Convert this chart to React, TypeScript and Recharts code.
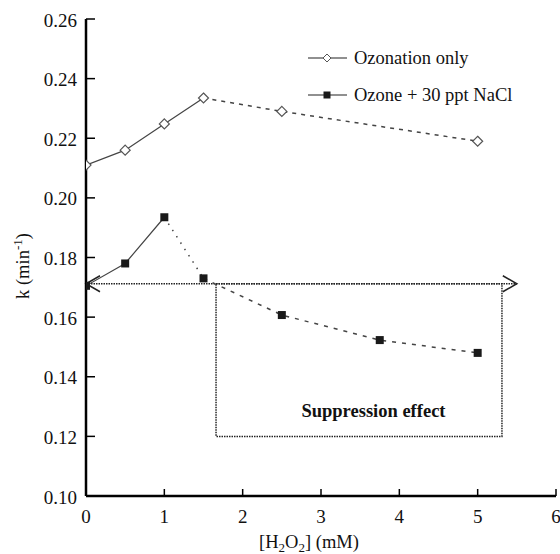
import React from 'react';
import {
  ComposedChart,
  Line,
  XAxis,
  YAxis,
  Legend,
  ReferenceLine,
  ReferenceArea,
  ReferenceDot,
} from 'recharts';

// H2O2 dose (mM)
const doses = [0, 0.5, 1, 1.5, 2.5, 3.75, 5];
// Pseudo-first-order rate constant k (min^-1)
const ozonationOnly = [0.211, 0.216, 0.2248, 0.2335, 0.229, null, 0.219];
const ozoneNaCl = [0.1705, 0.178, 0.1935, 0.173, 0.1607, 0.1523, 0.148];

const xTicks = [0, 1, 2, 3, 4, 5, 6];
const yTicks = [0.1, 0.12, 0.14, 0.16, 0.18, 0.2, 0.22, 0.24, 0.26];

const seriesNames = ['Ozonation only', 'Ozone + 30 ppt NaCl'];

// suppression annotation (data coordinates)
const arrowLevel = 0.1712;
const arrowStart = 0;
const arrowEnd = 5.5;
const boxX = [1.66, 5.31];
const boxY = [0.12, 0.1712];
const boxText = 'Suppression effect';
const boxTextAt = { x: 3.67, y: 0.1285 };

const FONT = 'Liberation Serif';
const INK = '#222';
const TEXT = '#111';

// chart layout
const W = 560;
const H = 554;
const Y_AXIS_W = 86;
const X_AXIS_H = 58;
const PLOT_BOTTOM = H - X_AXIS_H;

const data = doses.map((d, i) => {
  const oz = ozonationOnly[i];
  const na = ozoneNaCl[i];
  return {
    dose: d,
    ozSolid: d <= 1.5 ? oz : null,
    ozDash: d >= 1.5 ? oz : null,
    ozPts: oz,
    naSolid: d <= 1 ? na : null,
    naDot: d >= 1 && d <= 1.5 ? na : null,
    naDash: d >= 1.5 ? na : null,
    naPts: na,
  };
});

const textStyle = { fontFamily: FONT, fontSize: 18.5, fill: TEXT };
const tickStyle = { fontFamily: FONT, fontSize: 19, fill: TEXT };

// y ticks: inward tick mark plus label
const YTick = (props: any) => {
  const { payload } = props;
  const y = payload.coordinate;
  return (
    <g>
      <line x1={Y_AXIS_W} y1={y} x2={Y_AXIS_W + 9} y2={y} stroke="#000" strokeWidth={1.5} />
      <text x={Y_AXIS_W - 9} y={y + 1} textAnchor="end" dominantBaseline="central" style={tickStyle}>
        {Number(payload.value).toFixed(2)}
      </text>
    </g>
  );
};

// x ticks: inward tick mark plus label
const XTick = (props: any) => {
  const { payload } = props;
  const x = payload.coordinate;
  return (
    <g>
      <line x1={x} y1={PLOT_BOTTOM} x2={x} y2={PLOT_BOTTOM - 7} stroke="#000" strokeWidth={1.5} />
      <text x={x} y={PLOT_BOTTOM + 20} textAnchor="middle" dominantBaseline="central" style={tickStyle}>
        {payload.value}
      </text>
    </g>
  );
};

const Diamond = (props: any) => {
  const { cx, cy } = props;
  if (cx == null || cy == null || props.value == null) return <g />;
  const r = 5;
  return (
    <path
      d={`M${cx},${cy - r}L${cx + r},${cy}L${cx},${cy + r}L${cx - r},${cy}Z`}
      fill="#fff"
      stroke="#555"
      strokeWidth={1.2}
    />
  );
};

const Square = (props: any) => {
  const { cx, cy } = props;
  if (cx == null || cy == null || props.value == null) return <g />;
  const s = 8;
  return <rect x={cx - s / 2} y={cy - s / 2} width={s} height={s} fill="#1a1a1a" />;
};

const DoubleArrow = (props: any) => {
  const { x1, y1, x2, y2 } = props;
  const h = 8;
  return (
    <g>
      <line x1={x1} y1={y1} x2={x2} y2={y2} stroke={INK} strokeWidth={1.5} strokeDasharray="1.5 1" />
      <polyline
        points={`${x1 + 14},${y1 - h} ${x1},${y1} ${x1 + 14},${y1 + h}`}
        fill="none"
        stroke={INK}
        strokeWidth={1.5}
      />
      <polyline
        points={`${x2 - 14},${y2 - h} ${x2},${y2} ${x2 - 14},${y2 + h}`}
        fill="none"
        stroke={INK}
        strokeWidth={1.5}
      />
    </g>
  );
};

const BoxLabel = (props: any) => (
  <text
    x={props.cx}
    y={props.cy}
    textAnchor="middle"
    dominantBaseline="central"
    style={{ ...textStyle, fontWeight: 'bold' }}
  >
    {boxText}
  </text>
);

const LegendBox = () => (
  <svg width={230} height={70} style={{ overflow: 'visible' }}>
    {seriesNames.map((name, i) => {
      const y = 13 + i * 37;
      return (
        <g key={name}>
          <line x1={3} y1={y} x2={42} y2={y} stroke={INK} strokeWidth={1.2} />
          {i === 0 ? (
            <path d={`M22,${y - 4}L26,${y}L22,${y + 4}L18,${y}Z`} fill="#fff" stroke="#555" />
          ) : (
            <rect x={18.5} y={y - 3.5} width={7} height={7} fill="#1a1a1a" />
          )}
          <text x={49} y={y} dominantBaseline="central" style={textStyle}>
            {name}
          </text>
        </g>
      );
    })}
  </svg>
);

export default function App() {
  return (
    <div style={{ position: 'absolute', left: 0, top: 0, width: W, height: H, background: '#fff', fontFamily: FONT }}>
      <ComposedChart width={W} height={H} data={data} margin={{ top: 19, right: 4, bottom: 0, left: 0 }}>
        <XAxis
          dataKey="dose"
          type="number"
          domain={[0, 6]}
          ticks={xTicks}
          allowDataOverflow
          height={X_AXIS_H}
          axisLine={{ stroke: '#000', strokeWidth: 2.5 }}
          tickLine={false}
          tick={<XTick />}
          label={() => (
            <text x={309} y={548} textAnchor="middle" style={textStyle}>
              [H
              <tspan fontSize={13} dy={4}>2</tspan>
              <tspan dy={-4}>O</tspan>
              <tspan fontSize={13} dy={4}>2</tspan>
              <tspan dy={-4}>] (mM)</tspan>
            </text>
          )}
        />
        <XAxis xAxisId="top" orientation="top" dataKey="dose" type="number" domain={[0, 6]} height={0}
          tick={false} tickLine={false} axisLine={{ stroke: '#000', strokeWidth: 2.5 }} />
        <YAxis
          type="number"
          domain={[0.1, 0.26]}
          ticks={yTicks}
          allowDataOverflow
          width={Y_AXIS_W}
          axisLine={{ stroke: '#000', strokeWidth: 2.5 }}
          tickLine={false}
          tick={<YTick />}
          label={() => (
            <text
              x={23}
              y={266}
              transform="rotate(-90 23 266)"
              textAnchor="middle"
              dominantBaseline="central"
              style={textStyle}
            >
              k (min
              <tspan fontSize={13} dy={-6}>-1</tspan>
              <tspan dy={6}>)</tspan>
            </text>
          )}
        />
        <YAxis yAxisId="right" orientation="right" domain={[0.1, 0.26]} width={0} tick={false} tickLine={false}
          axisLine={{ stroke: '#000', strokeWidth: 2.5 }} />

        <ReferenceArea
          x1={boxX[0]}
          x2={boxX[1]}
          y1={boxY[0]}
          y2={boxY[1]}
          fill="none"
          fillOpacity={0}
          stroke={INK}
          strokeWidth={1.5}
          strokeDasharray="1.5 1"
          ifOverflow="visible"
        />
        <ReferenceLine
          segment={[
            { x: arrowStart, y: arrowLevel },
            { x: arrowEnd, y: arrowLevel },
          ]}
          ifOverflow="visible"
          shape={DoubleArrow}
        />
        <ReferenceDot x={boxTextAt.x} y={boxTextAt.y} r={0} ifOverflow="visible" shape={BoxLabel} />

        <Line dataKey="ozSolid" name={seriesNames[0]} stroke="#444" strokeWidth={1.2} dot={false}
          isAnimationActive={false} legendType="none" />
        <Line dataKey="ozDash" stroke="#444" strokeWidth={1.5} strokeDasharray="4 5" dot={false}
          connectNulls isAnimationActive={false} legendType="none" />
        <Line dataKey="naSolid" name={seriesNames[1]} stroke="#444" strokeWidth={1.2} dot={false}
          isAnimationActive={false} legendType="none" />
        <Line dataKey="naDot" stroke="#444" strokeWidth={1.5} strokeDasharray="1.5 6" dot={false}
          isAnimationActive={false} legendType="none" />
        <Line dataKey="naDash" stroke="#444" strokeWidth={1.5} strokeDasharray="4 6" dot={false}
          isAnimationActive={false} legendType="none" />
        <Line dataKey="ozPts" stroke="none" dot={<Diamond />} activeDot={false}
          isAnimationActive={false} legendType="none" />
        <Line dataKey="naPts" stroke="none" dot={<Square />} activeDot={false}
          isAnimationActive={false} legendType="none" />

        <Legend
          layout="vertical"
          align="center"
          verticalAlign="middle"
          content={() => <LegendBox />}
          wrapperStyle={{ position: 'absolute', left: 305, top: 45, width: 230, height: 70 }}
        />
      </ComposedChart>
    </div>
  );
}
